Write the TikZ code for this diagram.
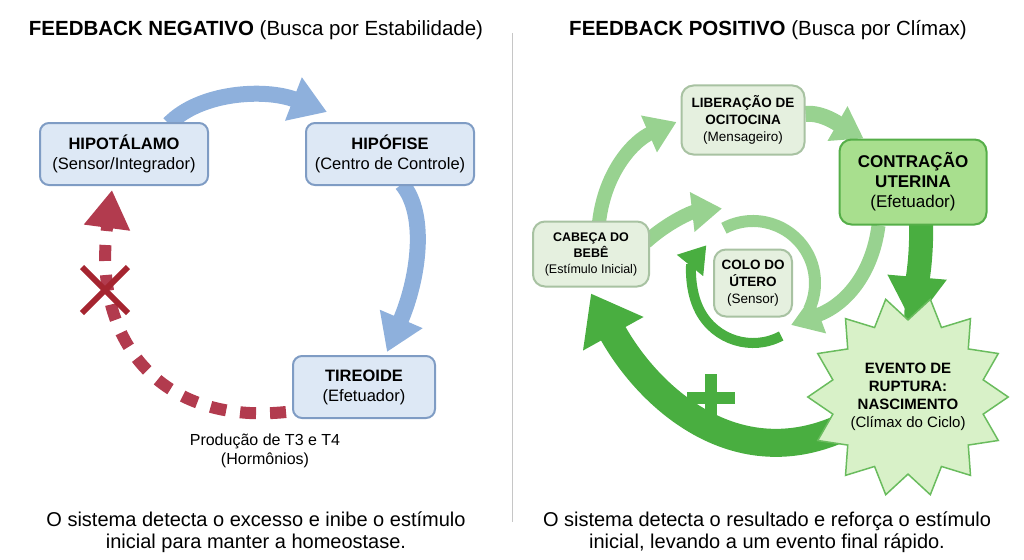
\documentclass[tikz,border=0pt]{standalone}
\usepackage{fontspec}
\setmainfont{Liberation Sans}
\usepackage{tikz}
\usetikzlibrary{arrows.meta,backgrounds,calc,shapes.geometric,shapes.misc}

\begin{document}
\begin{tikzpicture}[x=1pt,y=-1pt,
  box/.style={draw,line width=2pt,align=center,inner sep=2pt},
  negbox/.style={box,rounded corners=9pt,draw=negline,fill=negfill,minimum width=168pt,minimum height=62pt,font=\fontsize{16.5}{20}\selectfont},
  posbox/.style={box,rounded corners=12pt,draw=posline,fill=posfill,font=\fontsize{13.5}{17}\selectfont},
  contrbox/.style={box,rounded corners=12pt,draw=contrline,fill=contrfill,font=\fontsize{17}{20}\selectfont},
  bluearrow/.style={draw=bluearr,line width=16pt,-{Triangle[length=36pt,width=44pt]}},
  redarrow/.style={draw=redash,line width=12pt,dash pattern=on 16pt off 14pt,-{Triangle[length=38pt,width=44pt]}},
  lightarrow/.style={draw=greenlight,line width=14pt,-{Triangle[length=30pt,width=38pt]}},
  darkarrow/.style={draw=greendark,line width=24pt,-{Triangle[length=48pt,width=56pt]}},
  plusbar/.style={draw=greendark,line width=12pt}]
\definecolor{negfill}{HTML}{DDE8F5} \definecolor{negline}{HTML}{7F9CC4}
\definecolor{bluearr}{HTML}{8EB0DC} \definecolor{redash}{HTML}{B23B4E}
\definecolor{xred}{HTML}{A52530}
\definecolor{posfill}{HTML}{E5F0DF} \definecolor{posline}{HTML}{A8C2A2}
\definecolor{contrfill}{HTML}{A8DF8E} \definecolor{contrline}{HTML}{55AE48}
\definecolor{starfill}{HTML}{D8F1C8} \definecolor{starline}{HTML}{6ABC5E}
\definecolor{greenlight}{HTML}{98D290} \definecolor{greendark}{HTML}{49AE40}
\useasboundingbox (0,0) rectangle (1024,559);
\draw [gray!45,line width=1pt] (512,33) -- (512,522);
% titles and captions
\node [font=\fontsize{20.5}{24}\selectfont] (negtitle) at (256,30) {\textbf{FEEDBACK NEGATIVO} (Busca por Estabilidade)};
\node [font=\fontsize{20.5}{24}\selectfont] (postitle) at (768,30) {\textbf{FEEDBACK POSITIVO} (Busca por Clímax)};
\node [font=\fontsize{20}{22}\selectfont,align=center] (negtext) at (256,532) {O sistema detecta o excesso e inibe o estímulo\\inicial para manter a homeostase.};
\node [font=\fontsize{20}{22}\selectfont,align=center] (postext) at (767,532) {O sistema detecta o resultado e reforça o estímulo\\inicial, levando a um evento final rápido.};
% negative loop
\node [negbox] (hipot) at (124,154) {\textbf{HIPOTÁLAMO}\\(Sensor/Integrador)};
\node [negbox] (hipof) at (390,154) {\textbf{HIPÓFISE}\\(Centro de Controle)};
\node [negbox,minimum width=142pt] (tireo) at (364,387) {\textbf{TIREOIDE}\\(Efetuador)};
\node [font=\fontsize{16}{19}\selectfont,align=center] (horm) at (265,451) {Produção de T3 e T4\\(Hormônios)};
\begin{scope}[on background layer]
\draw [bluearrow] ($(hipot.north)+(45,2)$) .. controls (200,92) and (265,88) .. ($(hipof.north west)+(22,-10)$);
\draw [bluearrow] ($(hipof.south)+(12,-2)$) .. controls (428,215) and (418,280) .. ($(tireo.north)+(23,-3)$);
\draw [redarrow] ($(tireo.west)+(-6,25)$) .. controls (160,425) and (92,340) .. ($(hipot.south)+(-12,4)$);
\end{scope}
\node [cross out,draw=xred,fill=white,line width=6pt,minimum size=40pt,inner sep=0pt] (block) at (105,290) {};
% positive loop
\node [posbox,minimum width=123pt,minimum height=69pt] (liber) at (743,120) {\textbf{LIBERAÇÃO DE}\\\textbf{OCITOCINA}\\(Mensageiro)};
\node [contrbox,minimum width=147pt,minimum height=85pt] (contr) at (913,182) {\textbf{CONTRAÇÃO}\\\textbf{UTERINA}\\(Efetuador)};
\node [posbox,minimum width=116pt,minimum height=65pt,font=\fontsize{12.5}{16}\selectfont] (cabeca) at (591,254) {\textbf{CABEÇA DO}\\\textbf{BEBÊ}\\(Estímulo Inicial)};
\node [posbox,minimum width=78pt,minimum height=67pt] (colo) at (753,283) {\textbf{COLO DO}\\\textbf{ÚTERO}\\(Sensor)};
\node [star,star points=14,star point ratio=1.3,shape border rotate=12.86,draw=starline,fill=starfill,line width=1.5pt,inner sep=-3pt,minimum size=190pt,align=center,font=\fontsize{15}{18}\selectfont] (event) at (908,397) {\textbf{EVENTO DE}\\\textbf{RUPTURA:}\\\textbf{NASCIMENTO}\\(Clímax do Ciclo)};
\coordinate (plus) at (711,398);
\foreach \dx/\dy in {24/0,0/24}
\draw [plusbar] ($(plus)-(\dx,\dy)$) -- ($(plus)+(\dx,\dy)$);
\begin{scope}[on background layer]
\draw [lightarrow] ($(cabeca.north)+(8,2)$) .. controls (605,170) and (635,140) .. ($(liber.west)+(-4,2)$);
\draw [lightarrow,line width=16pt] ($(liber.east)+(0,-6)$) .. controls (822,112) and (840,125) .. ($(contr.north west)+(25,0)$);
\draw [darkarrow] ($(contr.south)+(8,-2)$) .. controls (922,260) and (916,290) .. ($(event.center)+(5,-72)$);
\draw [darkarrow,line width=28pt,-{Triangle[length=46pt,width=66pt]}] ($(event.center)+(-58,27)$) .. controls (740,480) and (650,400) .. ($(cabeca.south)+(0,6)$);
\draw [lightarrow] ($(cabeca.east)+(-4,-12)$) .. controls (668,222) and (692,212) .. ($(colo.north)+(-31,-40)$);
\draw [draw=greenlight,line width=12pt] ($(colo.center)+(-118:62)$) arc[start angle=-118,end angle=25,radius=62];
\draw [lightarrow] ($(contr.south west)+(40,0)$) .. controls (872,275) and (845,305) .. ($(colo.center)+(38,42)$);
\draw [darkarrow,line width=10pt,-{Triangle[length=26pt,width=32pt]}] ($(colo.center)+(62:60)$) arc[start angle=62,end angle=219,radius=60];
\end{scope}
\end{tikzpicture}
\end{document}
